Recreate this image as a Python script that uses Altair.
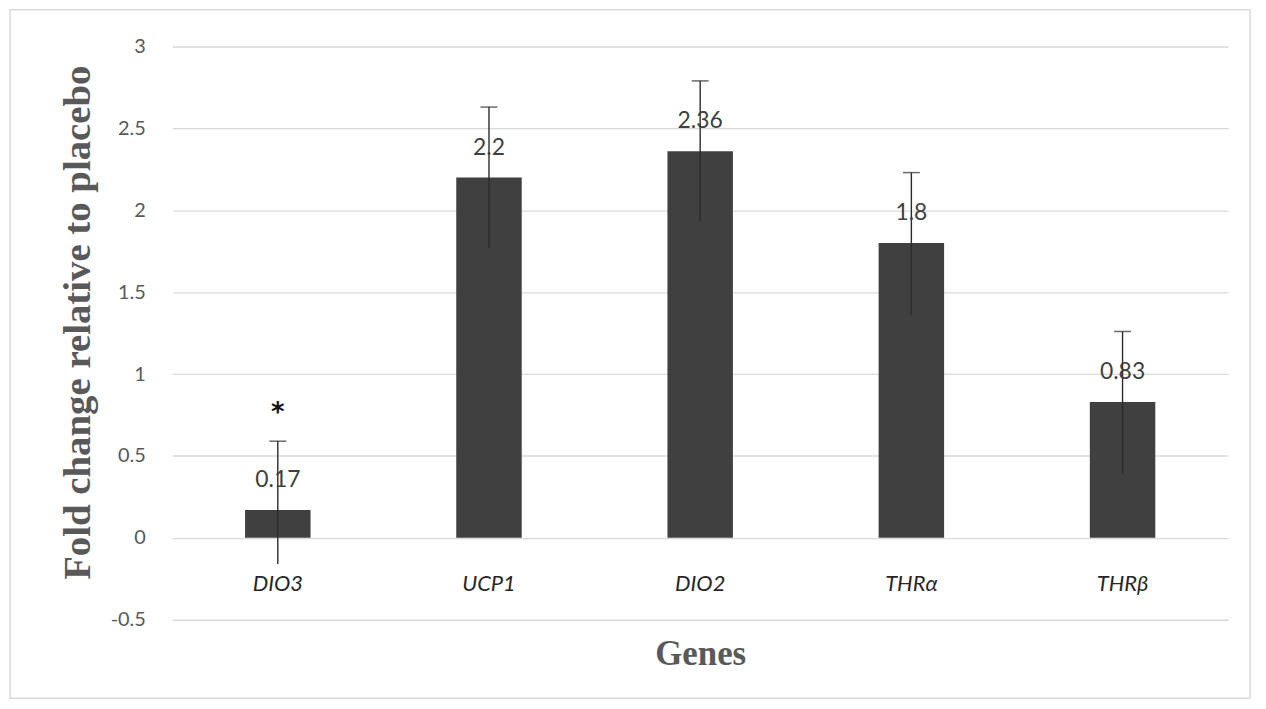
import altair as alt
import pandas as pd

genes = ["DIO3", "UCP1", "DIO2", "THRα", "THRβ"]
values = [0.17, 2.2, 2.36, 1.8, 0.83]
err_low = [-0.16, 1.77, 1.93, 1.36, 0.39]
err_high = [0.59, 2.63, 2.79, 2.23, 1.26]
sig = ["*", "", "", "", ""]
y_ticks = [-0.5, 0, 0.5, 1, 1.5, 2, 2.5, 3]

df = pd.DataFrame({
    "gene": genes,
    "value": values,
    "lo": err_low,
    "hi": err_high,
    "sig": sig,
    "label": [str(v) for v in values],
})

W, H = 1061, 576
zero_off = -round(H * 0.5 / 3.5)

x_enc = alt.X(
    "gene:N",
    sort=genes,
    scale=alt.Scale(paddingInner=0.69, paddingOuter=0.345),
    axis=alt.Axis(
        title="Genes",
        offset=zero_off,
        domain=False,
        ticks=False,
        tickSize=0,
        labelAngle=0,
        labelBaseline="middle",
        labelPadding=46,
        labelFont="Lato",
        labelFontStyle="italic",
        labelFontSize=22,
        labelColor="#262626",
        titleFont="Liberation Serif",
        titleFontWeight="bold",
        titleFontSize=35,
        titleColor="#595959",
        titleX=W / 2,
        titleY=116,
        titleBaseline="middle",
        titleAlign="center",
        grid=False,
    ),
)

y_scale = alt.Scale(domain=[-0.5, 3], nice=False, zero=False)
y_axis = alt.Axis(
    title="Fold change relative to placebo",
    values=y_ticks,
    labelExpr="datum.value < 0 ? '-' + format(-datum.value, '~g') : format(datum.value, '~g')",
    domain=False,
    ticks=False,
    tickSize=0,
    labelPadding=27,
    labelFont="Lato",
    labelFontSize=20,
    labelColor="#595959",
    grid=True,
    gridColor="#d9d9d9",
    gridWidth=1.3,
    titleFont="Liberation Serif",
    titleFontWeight="bold",
    titleFontSize=39,
    titleColor="#595959",
    titleAngle=270,
    titleX=-95,
    titleY=277,
    titleAlign="center",
    titleBaseline="middle",
)

base = alt.Chart(df)

bars = base.mark_bar(color="#404040").encode(
    x=x_enc,
    y=alt.Y("value:Q", scale=y_scale, axis=y_axis),
)

err = base.mark_rule(color="#2b2b2b", strokeWidth=1.4).encode(
    x=alt.X("gene:N", sort=genes),
    y="lo:Q",
    y2="hi:Q",
)

caps = base.mark_tick(color="#2b2b2b", thickness=1.5, size=17, orient="horizontal").encode(
    x=alt.X("gene:N", sort=genes),
    y="hi:Q",
)

labels = base.mark_text(
    font="Lato", fontSize=23, color="#404040", baseline="middle", dy=-30
).encode(
    x=alt.X("gene:N", sort=genes),
    y="value:Q",
    text="label:N",
)

stars = base.mark_text(
    font="DejaVu Sans", fontSize=26, fontWeight="bold", color="#111111", baseline="middle", dy=-28
).encode(
    x=alt.X("gene:N", sort=genes),
    y="hi:Q",
    text="sig:N",
)

frame = alt.Chart(pd.DataFrame({"a": [0]})).mark_rect(
    fill=None, stroke="#d9d9d9", strokeWidth=1.5
).encode(
    x=alt.value(-163), x2=alt.value(1083), y=alt.value(-37), y2=alt.value(655)
)

chart = alt.layer(frame, bars, err, caps, labels, stars).properties(
    width=W,
    height=H,
    autosize=alt.AutoSizeParams(type="none"),
    padding={"left": 165, "top": 37, "right": 30, "bottom": 82},
    background="white",
).configure_view(stroke=None)

chart.save("out.html", embed_options={"renderer": "svg", "actions": False})
